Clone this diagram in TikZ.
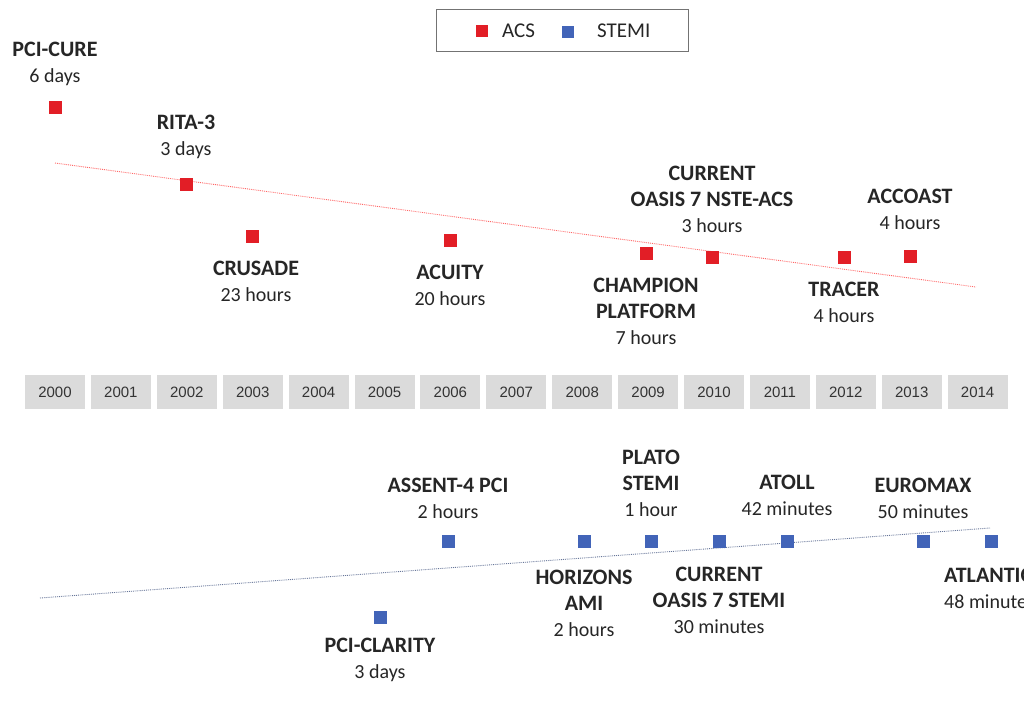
\documentclass[tikz,border=0pt]{standalone}
\usepackage{fontspec}
\setmainfont{Carlito}
\newfontfamily\yearfont{Liberation Sans}
\definecolor{acscol}{RGB}{226,30,38}
\definecolor{stemicol}{RGB}{66,100,184}
\definecolor{txtcol}{RGB}{38,38,38}
\newcommand{\hd}[1]{{\fontsize{22}{26}\selectfont\bfseries #1}}
\begin{document}
\begin{tikzpicture}[x=1pt,y=-1pt,
  lbl/.style={align=center,inner sep=0pt,text=txtcol,font=\fontsize{20}{26}\selectfont},
  yearbox/.style={fill=black!14,minimum width=60pt,minimum height=34pt,inner sep=0pt,text=black!80,font=\yearfont\fontsize{15}{18}\selectfont},
  acs/.style={fill=acscol,minimum size=13pt,inner sep=0pt},
  stemi/.style={fill=stemicol,minimum size=13pt,inner sep=0pt},
  trendacs/.style={densely dotted,line width=0.9pt,red!60},
  trendstemi/.style={densely dotted,line width=0.9pt,stemicol!60!black!70}]
\useasboundingbox (0,0) rectangle (1024,725);
\clip (0,0) rectangle (1024,725);
% legend
\node[draw=black!55,line width=1pt,minimum width=252pt,minimum height=42pt,inner sep=0pt] (legend) at (562,31) {};
\node[acs,minimum size=12pt] (lacs) at (482,31) {};
\node[lbl,font=\fontsize{21}{24}\selectfont,anchor=west] (tacs) at (502,31) {ACS};
\node[stemi,minimum size=12pt] (lstemi) at (568,32) {};
\node[lbl,font=\fontsize{21}{24}\selectfont,anchor=west] (tstemi) at (597,31) {STEMI};
% years
\foreach \i in {0,...,14}{
  \pgfmathtruncatemacro{\yr}{2000+\i}
  \node[yearbox] (y\yr) at ({55+65.9*\i},392) {\yr};
}
% trend lines
\coordinate (ta1) at (55,163);
\coordinate (ta2) at (976,287);
\draw[trendacs] (ta1) -- (ta2);
\coordinate (ts1) at (40,598);
\coordinate (ts2) at (990,528);
\draw[trendstemi] (ts1) -- (ts2);
% ACS markers
\node[acs] (pcicure) at (55,107) {};
\node[acs] (rita) at (186,184) {};
\node[acs] (crusade) at (252,236) {};
\node[acs] (acuity) at (450,240) {};
\node[acs] (champion) at (646,253) {};
\node[acs] (oasisn) at (712,257) {};
\node[acs] (tracer) at (844,257) {};
\node[acs] (accoast) at (910,256) {};
% ACS labels
\node[lbl] (lpcicure) at (55,64) {\hd{PCI-CURE}\\6 days};
\node[lbl] (lrita) at (186,137) {\hd{RITA-3}\\3 days};
\node[lbl] (lcrusade) at (256,281) {\hd{CRUSADE}\\23 hours};
\node[lbl] (lacuity) at (450,285) {\hd{ACUITY}\\20 hours};
\node[lbl] (loasisn) at (712,199) {\hd{CURRENT}\\\hd{OASIS 7 NSTE-ACS}\\3 hours};
\node[lbl] (lchampion) at (646,311) {\hd{CHAMPION}\\\hd{PLATFORM}\\7 hours};
\node[lbl] (laccoast) at (910,209) {\hd{ACCOAST}\\4 hours};
\node[lbl] (ltracer) at (844,302) {\hd{TRACER}\\4 hours};
% STEMI markers
\node[stemi] (assent) at (448,541) {};
\node[stemi] (horizons) at (584,541) {};
\node[stemi] (plato) at (651,541) {};
\node[stemi] (oasiss) at (719,541) {};
\node[stemi] (atoll) at (787,541) {};
\node[stemi] (clarity) at (380,617) {};
\node[stemi] (euromax) at (923,541) {};
\node[stemi] (atlantic) at (991,541) {};
% STEMI labels
\node[lbl] (lassent) at (448,498) {\hd{ASSENT-4 PCI}\\2 hours};
\node[lbl] (lhorizons) at (584,603) {\hd{HORIZONS}\\\hd{AMI}\\2 hours};
\node[lbl] (lplato) at (651,483) {\hd{PLATO}\\\hd{STEMI}\\1 hour};
\node[lbl] (loasiss) at (719,600) {\hd{CURRENT}\\\hd{OASIS 7 STEMI}\\30 minutes};
\node[lbl] (latoll) at (787,495) {\hd{ATOLL}\\42 minutes};
\node[lbl] (lclarity) at (380,660) {\hd{PCI-CLARITY}\\3 days};
\node[lbl] (leuromax) at (923,498) {\hd{EUROMAX}\\50 minutes};
\node[lbl,align=left,anchor=west] (latlantic) at (944,588) {\hd{ATLANTIC}\\48 minutes};
\end{tikzpicture}
\end{document}
